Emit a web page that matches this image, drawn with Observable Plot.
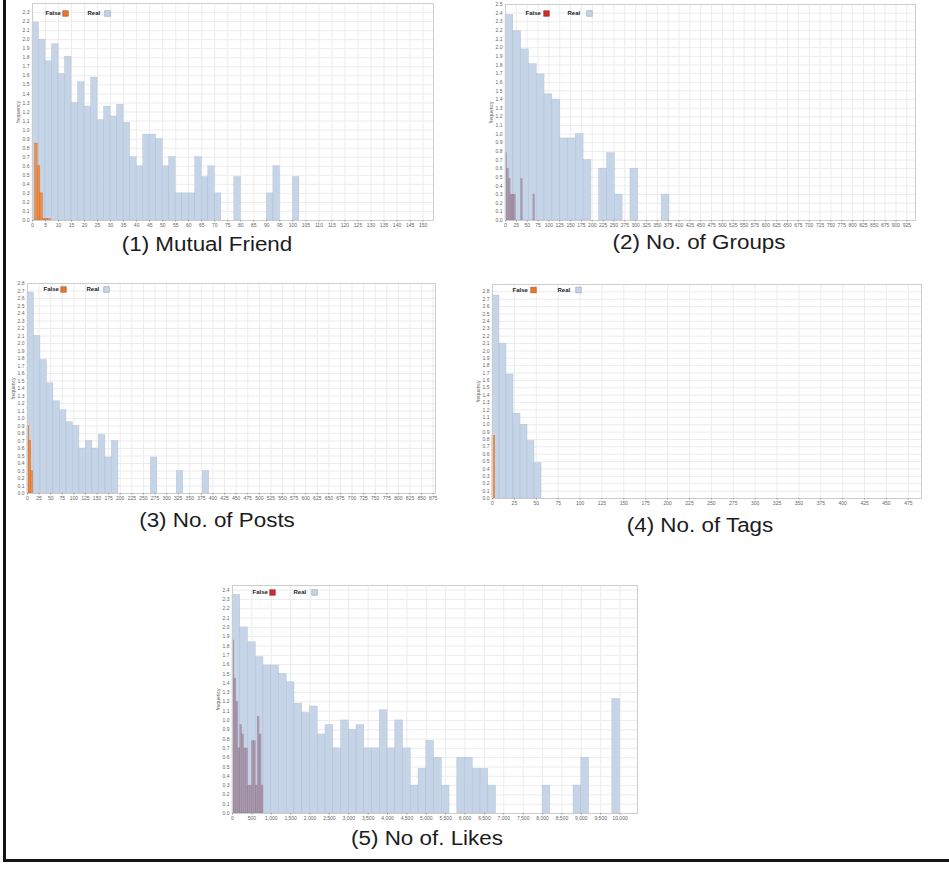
<!DOCTYPE html>
<html>
<head>
<meta charset="utf-8">
<script src="https://cdn.jsdelivr.net/npm/d3@7"></script>
<script src="https://cdn.jsdelivr.net/npm/@observablehq/plot@0.6"></script>
<style>
  body { margin: 0; background: #fff; font-family: "Liberation Sans", Arial, sans-serif; }
  #page { position: relative; width: 949px; height: 869px; overflow: hidden; background: #fff; }
  .border { position: absolute; left: 3px; top: -10px; width: 1000px; height: 872px;
            border-left: 3px solid #141414; border-bottom: 3px solid #141414; box-sizing: border-box; }
  .panel { position: absolute; }
  .panel svg { max-width: none; overflow: visible; }
  .cap { position: absolute; font-size: 20px; line-height: 1; color: #1c1c1c; white-space: nowrap;
         transform: translate(-50%, -50%) scaleX(1.12); }
</style>
</head>
<body>
<div id="page"><div class="border"></div></div>
<script>
// Histogram heights per bin (frequency axis), real accounts and fake accounts.
const mutualReal = [2.19, 2.00, 1.76, 1.95, 1.62, 1.81, 1.30, 1.53, 1.26, 1.58, 1.11, 1.26, 1.15, 1.28, 1.08,
                    0.70, 0.60, 0.95, 0.95, 0.90, 0.60, 0.70, 0.30, 0.30, 0.30, 0.70, 0.48, 0.60, 0.30,
                    0, 0, 0.48, 0, 0, 0, 0, 0.30, 0.60, 0, 0, 0.48];
const mutualFake = [0, 0.85, 0.60, 0.30, 0.015, 0.015, 0.015];

const groupsReal = [2.38, 2.19, 1.98, 1.81, 1.69, 1.46, 1.40, 0.95, 0.95, 1.00, 0.70, 0, 0.60, 0.78, 0.30,
                    0, 0.60, 0, 0, 0, 0.30];
const groupsFake = [0.78, 0.60, 0.48, 0.30, 0.30, 0.30, 0, 0, 0, 0.48, 0, 0, 0, 0, 0, 0, 0.30];

const postsReal = [2.68, 2.10, 1.78, 1.47, 1.23, 1.11, 0.95, 0.90, 0.60, 0.70, 0.60, 0.78, 0.48, 0.70,
                   0, 0, 0, 0, 0, 0.48, 0, 0, 0, 0.30, 0, 0, 0, 0.30];
const postsFake = [0.90, 0.70, 0.30];

const tagsReal = [2.75, 2.10, 1.68, 1.15, 1.00, 0.78, 0.48];
const tagsFake = [0.85];

const likesReal = [2.35, 2.00, 1.84, 1.68, 1.59, 1.59, 1.50, 1.41, 1.18, 1.08, 1.15, 0.85, 0.95, 0.70, 1.00,
                   0.90, 0.95, 0.70, 0.70, 1.11, 0.70, 1.00, 0.70, 0.30, 0.48, 0.78, 0.60, 0.30, 0,
                   0.60, 0.60, 0.48, 0.48, 0.30, 0, 0, 0, 0, 0, 0, 0.30, 0, 0, 0, 0.30, 0.60, 0, 0, 0, 1.23];
const likesFake = [1.86, 1.45, 1.20, 0.70, 0.95, 0.85, 0.70, 0.70, 0.30, 0.30, 0.78, 0.78, 0.30, 1.04, 0.85, 0.30];

const captions = ["(1) Mutual Friend", "(2) No. of Groups", "(3) No. of Posts", "(4) No. of Tags", "(5) No of. Likes"];
const legendLabels = ["False", "Real"];
const yLabel = "frequency";

// Layout and styling of each panel (plot-area box in page pixels).
const orange = {fill: "#ec8a3c", stroke: "#d2601a", fillOpacity: 0.9, strokeOpacity: 0.7, swatch: "#e8762b", edge: "#7a3a1a"};
const red = {fill: "#885569", stroke: "#6a4058", fillOpacity: 0.45, strokeOpacity: 0.2, swatch: "#d42a2a", edge: "#6a1010"};

const panels = [
  {box: [32, 3, 433, 220], x: [0, 154], xTicks: d3.range(0, 151, 5), y: [0, 2.4], yTop: 2.3,
   real: mutualReal, realW: 2.5, fake: mutualFake, fakeW: 1, tone: orange,
   legend: [13, 10, 33, 55, 75], cap: [207, 244]},
  {box: [505, 4, 915, 220], x: [0, 945], xTicks: d3.range(0, 945, 25), y: [0, 2.5], yTop: 2.5,
   real: groupsReal, realW: 18, fake: groupsFake, fakeW: 4, tone: red,
   legend: [20, 9, 41, 62, 84], cap: [699, 242]},
  {box: [27, 283, 435, 493], x: [0, 880], xTicks: d3.range(0, 876, 25), y: [0, 2.8], yTop: 2.8,
   real: postsReal, realW: 14, fake: postsFake, fakeW: 4, tone: orange,
   legend: [16, 6, 36, 59, 79], cap: [217, 520]},
  {box: [492, 284, 921, 498], x: [0, 490], xTicks: d3.range(0, 476, 25), y: [0, 2.9], yTop: 2.8,
   real: tagsReal, realW: 8, fake: tagsFake, fakeW: 3, tone: orange,
   legend: [20, 5.5, 41, 65, 86], cap: [700, 525]},
  {box: [232, 585, 637, 813], x: [0, 10450], xTicks: d3.range(0, 10001, 500), y: [0, 2.45], yTop: 2.4,
   real: likesReal, realW: 200, fake: likesFake, fakeW: 50, tone: red,
   legend: [20, 7, 40, 61, 82], cap: [427, 838]}
];

const bins = (values, w) => values.map((v, i) => ({x1: i * w, x2: (i + 1) * w, v})).filter(d => d.v > 0);

const page = document.getElementById("page");
const m = {left: 26, right: 10, top: 2, bottom: 12};

panels.forEach((p, k) => {
  const [l, t, r, b] = p.box;
  const width = r - l + m.left + m.right;
  const height = b - t + m.top + m.bottom;
  const yTicks = d3.range(0, Math.round(p.yTop * 10) + 1).map(i => i / 10);
  const [lx, ly, sx1, rx, sx2] = p.legend;

  const chart = Plot.plot({
    width, height,
    marginLeft: m.left, marginRight: m.right, marginTop: m.top, marginBottom: m.bottom,
    style: {fontSize: "5px", fontFamily: "Liberation Sans, Arial, sans-serif", color: "#555", background: "transparent"},
    x: {domain: p.x},
    y: {domain: p.y},
    marks: [
      Plot.gridX({ticks: p.xTicks, stroke: "#ececec", strokeOpacity: 1}),
      Plot.gridY({ticks: yTicks, stroke: "#ececec", strokeOpacity: 1}),
      Plot.rectY(bins(p.real, p.realW), {x1: "x1", x2: "x2", y: "v", fill: "#c6d4e7",
        stroke: "#9fb2cc", strokeWidth: 0.5, strokeOpacity: 0.6}),
      Plot.rectY(bins(p.fake, p.fakeW), {x1: "x1", x2: "x2", y: "v", fill: p.tone.fill,
        fillOpacity: p.tone.fillOpacity, stroke: p.tone.stroke, strokeWidth: 0.5, strokeOpacity: p.tone.strokeOpacity}),
      Plot.frame({stroke: "#cdcdcd"}),
      Plot.axisX({ticks: p.xTicks, tickSize: 1.5, tickPadding: 1.5, label: null, fill: "#666", stroke: "#999"}),
      Plot.axisY({ticks: yTicks, tickFormat: d3.format(".1f"), tickSize: 0, tickPadding: 3, fill: "#666",
        label: yLabel, labelAnchor: "center", labelOffset: 16, labelArrow: "none"}),
      Plot.text([legendLabels[0]], {frameAnchor: "top-left", dx: lx, dy: ly, text: d => d,
        fontWeight: "bold", fontSize: 6, fill: "#222", lineAnchor: "middle", textAnchor: "start"}),
      Plot.dot([0], {frameAnchor: "top-left", dx: sx1, dy: ly, symbol: "square", r: 3.2,
        fill: p.tone.swatch, stroke: p.tone.edge, strokeWidth: 0.4}),
      Plot.text([legendLabels[1]], {frameAnchor: "top-left", dx: rx, dy: ly, text: d => d,
        fontWeight: "bold", fontSize: 6, fill: "#222", lineAnchor: "middle", textAnchor: "start"}),
      Plot.dot([0], {frameAnchor: "top-left", dx: sx2, dy: ly, symbol: "square", r: 3.2,
        fill: "#c6d4e7", stroke: "#7f96b6", strokeWidth: 0.5})
    ]
  });

  const holder = document.createElement("div");
  holder.className = "panel";
  holder.style.left = (l - m.left) + "px";
  holder.style.top = (t - m.top) + "px";
  holder.style.width = width + "px";
  holder.appendChild(chart);
  page.appendChild(holder);

  const cap = document.createElement("div");
  cap.className = "cap";
  cap.textContent = captions[k];
  cap.style.left = p.cap[0] + "px";
  cap.style.top = p.cap[1] + "px";
  page.appendChild(cap);
});
</script>
</body>
</html>
